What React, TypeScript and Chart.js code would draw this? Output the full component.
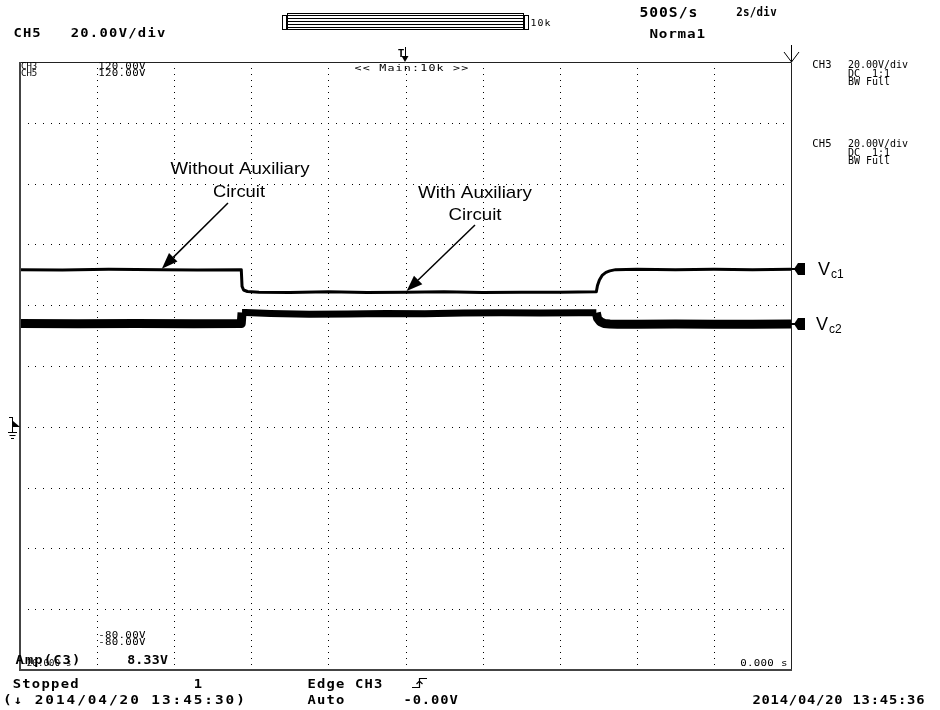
import React, { useEffect, useRef } from "react";
import { Chart, registerables } from "chart.js";

Chart.register(...registerables);

// Acquisition: 2 s/div over 10 divisions, 20 V/div over 10 divisions (-80 V .. +120 V)
const timeMin = 0;
const timeMax = 20;
const timeStep = 2;
const voltMin = -80;
const voltMax = 120;
const voltStep = 20;

// CH3 trace (Vc1), seconds / volts
const vc1Time = [0, 1.1, 2.3, 3.7, 4.6, 5.74, 5.76, 5.8, 5.9, 6.2, 7.0, 8.0, 9.0, 10.0, 11.0, 12.0, 13.0, 14.0, 14.95, 14.98, 15.03, 15.1, 15.2, 15.3, 15.45, 16.0, 17.0, 18.0, 19.0, 20.0];
const vc1Volts = [51.7, 51.6, 51.8, 51.7, 51.6, 51.7, 46.2, 45.0, 44.5, 44.3, 44.2, 44.4, 44.2, 44.3, 44.4, 44.2, 44.3, 44.3, 44.4, 46.5, 48.3, 49.8, 50.8, 51.3, 51.7, 51.8, 51.7, 51.8, 51.7, 51.8];

// CH5 trace (Vc2), seconds / volts
const vc2Time = [0, 1.5, 3.0, 4.5, 5.74, 5.76, 5.85, 6.5, 7.5, 8.5, 9.5, 10.5, 11.5, 12.5, 13.5, 14.5, 14.95, 14.98, 15.05, 15.15, 15.3, 15.5, 16, 17, 18, 19, 20];
const vc2Volts = [34.0, 33.9, 34.0, 33.9, 34.0, 37.6, 37.6, 37.3, 37.0, 37.1, 37.3, 37.2, 37.4, 37.5, 37.4, 37.5, 37.5, 35.8, 34.6, 34.0, 33.8, 33.7, 33.7, 33.8, 33.7, 33.7, 33.8];

// auxiliary circuit active between these instants
const auxStart = 5.75;
const auxEnd = 14.96;

// annotation arrows point at Vc1 at these instants
const withoutArrowTime = 3.68;
const withArrowTime = 10.03;

const OSC_FONT = '"DejaVu Sans Mono", monospace';
const LABEL_FONT = '"Liberation Sans", Arial, sans-serif';

function interp(ts: number[], vs: number[], t: number) {
  for (let i = 1; i < ts.length; i++) {
    if (t <= ts[i]) {
      const f = (t - ts[i - 1]) / (ts[i] - ts[i - 1]);
      return vs[i - 1] + f * (vs[i] - vs[i - 1]);
    }
  }
  return vs[vs.length - 1];
}

// fixed-pitch text, each glyph widened by `sx` inside its cell
function mono(ctx: CanvasRenderingContext2D, text: string, x: number, y: number, pitch: number, sx = 1) {
  ctx.textAlign = "center";
  for (let i = 0; i < text.length; i++) {
    ctx.save();
    ctx.translate(x + i * pitch + pitch / 2, y);
    ctx.scale(sx, 1);
    ctx.fillText(text[i], 0, 0);
    ctx.restore();
  }
}

// centred text stretched horizontally to a given width
function fitText(ctx: CanvasRenderingContext2D, text: string, cx: number, y: number, width: number) {
  const w = ctx.measureText(text).width;
  ctx.save();
  ctx.translate(cx, y);
  ctx.scale(width / w, 1);
  ctx.textAlign = "center";
  ctx.fillText(text, 0, 0);
  ctx.restore();
}

function arrow(ctx: CanvasRenderingContext2D, x0: number, y0: number, x1: number, y1: number) {
  const ang = Math.atan2(y1 - y0, x1 - x0);
  const head = 16;
  const half = 6;
  const bx = x1 - head * Math.cos(ang);
  const by = y1 - head * Math.sin(ang);
  ctx.beginPath();
  ctx.moveTo(x0, y0);
  ctx.lineTo(bx, by);
  ctx.lineWidth = 1.5;
  ctx.strokeStyle = "#000";
  ctx.stroke();
  ctx.beginPath();
  ctx.moveTo(x1, y1);
  ctx.lineTo(bx + half * Math.sin(ang), by - half * Math.cos(ang));
  ctx.lineTo(bx - half * Math.sin(ang), by + half * Math.cos(ang));
  ctx.closePath();
  ctx.fillStyle = "#000";
  ctx.fill();
}

const scopeScreen = {
  id: "scopeScreen",
  beforeDatasetsDraw(chart: any) {
    const { ctx, chartArea: a, scales } = chart;
    const xs = scales.x;
    const ys = scales.y;
    ctx.save();
    ctx.fillStyle = "#000";
    // dotted graticule, 10 dots per division
    const dx = (a.right - a.left) / 100;
    const dy = (a.bottom - a.top) / 100;
    for (let t = timeMin + timeStep; t < timeMax; t += timeStep) {
      const x = Math.round(xs.getPixelForValue(t));
      for (let k = 0; k <= 100; k++) ctx.fillRect(x, Math.round(a.top + k * dy), 1, 1);
    }
    for (let v = voltMin + voltStep; v < voltMax; v += voltStep) {
      const y = Math.round(ys.getPixelForValue(v));
      for (let k = 0; k <= 100; k++) ctx.fillRect(Math.round(a.left + k * dx), y, 1, 1);
    }
    ctx.restore();
  },
  afterDraw(chart: any) {
    const { ctx, chartArea: a, scales } = chart;
    const xs = scales.x;
    const ys = scales.y;
    ctx.save();

    // frame
    ctx.strokeStyle = "#222";
    ctx.lineWidth = 1;
    ctx.beginPath();
    ctx.moveTo(a.left, a.top + 0.5);
    ctx.lineTo(a.right + 0.5, a.top + 0.5);
    ctx.lineTo(a.right + 0.5, a.bottom);
    ctx.stroke();
    ctx.strokeStyle = "#444";
    ctx.lineWidth = 2;
    ctx.beginPath();
    ctx.moveTo(a.left, a.top);
    ctx.lineTo(a.left, a.bottom);
    ctx.lineTo(a.right + 1, a.bottom);
    ctx.stroke();

    ctx.fillStyle = "#000";
    ctx.textBaseline = "alphabetic";

    // header
    ctx.font = `bold 12px ${OSC_FONT}`;
    mono(ctx, "CH5", 13, 37, 9.4, 1.15);
    mono(ctx, "20.00V/div", 70, 37, 9.6, 1.15);
    ctx.font = `bold 14px ${OSC_FONT}`;
    mono(ctx, "500S/s", 639, 17, 9.8, 1.05);
    ctx.font = `bold 13px ${OSC_FONT}`;
    mono(ctx, "Norma1", 649, 38, 9.4, 1.1);
    ctx.font = `bold 12px ${OSC_FONT}`;
    mono(ctx, "2s/div", 736, 16, 6.8, 0.9);

    // zoom position bar
    ctx.strokeStyle = "#000";
    ctx.lineWidth = 1;
    ctx.strokeRect(282.5, 15.5, 4, 14);
    ctx.strokeRect(524.5, 15.5, 4, 14);
    ctx.beginPath();
    for (const y of [13.5, 15.5, 18.5, 21.5, 24.5, 27.5, 29.5]) {
      ctx.moveTo(287, y);
      ctx.lineTo(524, y);
    }
    ctx.moveTo(287.5, 13.5);
    ctx.lineTo(287.5, 29.5);
    ctx.moveTo(523.5, 13.5);
    ctx.lineTo(523.5, 29.5);
    ctx.stroke();
    ctx.font = `9px ${OSC_FONT}`;
    mono(ctx, "10k", 530, 26, 7, 1.1);

    // trigger position marker
    const tx = 401;
    ctx.font = `bold 11px ${OSC_FONT}`;
    ctx.textAlign = "center";
    ctx.fillText("T", tx, 57);
    ctx.beginPath();
    ctx.moveTo(tx + 4.5, 47);
    ctx.lineTo(tx + 4.5, 57);
    ctx.stroke();
    ctx.beginPath();
    ctx.moveTo(tx + 0.5, 56);
    ctx.lineTo(tx + 7.5, 56);
    ctx.lineTo(tx + 4, a.top);
    ctx.closePath();
    ctx.fill();

    // record-end arrow, top right
    ctx.beginPath();
    ctx.moveTo(a.right + 0.5, 45);
    ctx.lineTo(a.right + 0.5, a.top);
    ctx.moveTo(a.right - 7, 52);
    ctx.lineTo(a.right + 0.5, a.top);
    ctx.lineTo(a.right + 8, 52);
    ctx.stroke();

    // small labels inside the screen
    ctx.font = `9px ${OSC_FONT}`;
    mono(ctx, "CH3", 21, 69, 5.4, 1.0);
    mono(ctx, "CH5", 21, 76, 5.4, 1.0);
    mono(ctx, "120.00V", 98, 69, 6.8, 1.2);
    mono(ctx, "120.00V", 98, 76, 6.8, 1.2);
    mono(ctx, "-80.00V", 98, 638, 6.8, 1.2);
    mono(ctx, "-80.00V", 98, 645, 6.8, 1.2);
    mono(ctx, "<< Main:10k >>", 354, 71, 8.2, 1.3);
    mono(ctx, "-20.000 s", 21, 666, 5.6, 1.0);
    mono(ctx, "0.000 s", a.right - 51, 666, 6.8, 1.2);
    ctx.font = `bold 12px ${OSC_FONT}`;
    mono(ctx, "Amp(C3)", 15, 664, 9.4, 1.15);
    mono(ctx, "8.33V", 127, 664, 8.2, 1.1);

    // ground reference marker
    const gy = Math.round(ys.getPixelForValue(0));
    ctx.lineWidth = 1;
    ctx.beginPath();
    ctx.moveTo(12.5, gy - 9);
    ctx.lineTo(12.5, gy + 5);
    ctx.moveTo(9, gy - 9.5);
    ctx.lineTo(13, gy - 9.5);
    ctx.moveTo(8, gy + 5.5);
    ctx.lineTo(17, gy + 5.5);
    ctx.moveTo(9.5, gy + 8.5);
    ctx.lineTo(15.5, gy + 8.5);
    ctx.moveTo(11, gy + 11.5);
    ctx.lineTo(14, gy + 11.5);
    ctx.stroke();
    ctx.beginPath();
    ctx.moveTo(13, gy - 6);
    ctx.lineTo(20, gy);
    ctx.lineTo(13, gy);
    ctx.closePath();
    ctx.fill();

    // right-hand channel settings
    ctx.font = `10px ${OSC_FONT}`;
    const panel = (y: number, ch: string) => {
      mono(ctx, ch, 812, y, 6.6, 1.05);
      mono(ctx, "20.00V/div", 848, y, 6.0, 1.0);
      mono(ctx, "DC  1:1", 848, y + 8.5, 6.0, 1.0);
      mono(ctx, "BW Full", 848, y + 17, 6.0, 1.0);
    };
    panel(68, "CH3");
    panel(147, "CH5");

    // channel level markers and trace names
    const marker = (v: number, label: string, x0: number) => {
      const y = Math.round(ys.getPixelForValue(v));
      ctx.fillRect(a.right, y - 1, 5, 2);
      ctx.beginPath();
      ctx.moveTo(a.right + 3, y);
      ctx.lineTo(a.right + 7, y - 6);
      ctx.lineTo(a.right + 14, y - 6);
      ctx.lineTo(a.right + 14, y + 6);
      ctx.lineTo(a.right + 7, y + 6);
      ctx.closePath();
      ctx.fill();
      ctx.textAlign = "left";
      ctx.font = `18px ${LABEL_FONT}`;
      ctx.fillText("V", x0, y + 6);
      ctx.font = `12px ${LABEL_FONT}`;
      ctx.fillText(label, x0 + 13, y + 9);
    };
    marker(vc1Volts[vc1Volts.length - 1], "c1", 818);
    marker(vc2Volts[vc2Volts.length - 1], "c2", 816);

    // annotations
    ctx.font = `17px ${LABEL_FONT}`;
    fitText(ctx, "Without Auxiliary", 240, 174, 139);
    fitText(ctx, "Circuit", 239, 197, 52);
    fitText(ctx, "With Auxiliary", 475, 198, 114);
    fitText(ctx, "Circuit", 475, 220, 53);
    arrow(ctx, 228, 203,
      xs.getPixelForValue(withoutArrowTime),
      ys.getPixelForValue(interp(vc1Time, vc1Volts, withoutArrowTime)) - 1);
    arrow(ctx, 475, 225,
      xs.getPixelForValue(withArrowTime),
      ys.getPixelForValue(interp(vc1Time, vc1Volts, withArrowTime)) - 1);

    // status line
    ctx.font = `bold 12px ${OSC_FONT}`;
    mono(ctx, "Stopped", 12, 688, 9.6, 1.15);
    mono(ctx, "1", 193, 688, 9.6, 1.15);
    mono(ctx, "Edge CH3", 307, 688, 9.5, 1.15);
    mono(ctx, "(\u2193 2014/04/20 13:45:30)", 2, 704, 10.6, 1.2);
    mono(ctx, "Auto", 307, 704, 9.5, 1.15);
    mono(ctx, "-0.00V", 403, 704, 9.2, 1.15);
    mono(ctx, "2014/04/20 13:45:36", 752, 704, 9.1, 1.15);
    // rising-edge trigger symbol
    ctx.lineWidth = 1.2;
    ctx.beginPath();
    ctx.moveTo(412, 687.5);
    ctx.lineTo(419.5, 687.5);
    ctx.lineTo(419.5, 678.5);
    ctx.lineTo(427, 678.5);
    ctx.moveTo(416.5, 684);
    ctx.lineTo(419.5, 681);
    ctx.lineTo(422.5, 684);
    ctx.stroke();

    ctx.restore();
  },
};

export default function App() {
  const ref = useRef<HTMLCanvasElement | null>(null);

  useEffect(() => {
    if (!ref.current) return;
    const chart = new Chart(ref.current, {
      type: "line",
      data: {
        datasets: [
          {
            label: "Vc1",
            data: vc1Time.map((t, i) => ({ x: t, y: vc1Volts[i] })),
            borderColor: "#000",
            borderWidth: 3,
            pointRadius: 0,
            tension: 0,
            borderJoinStyle: "round",
          },
          {
            label: "Vc2",
            data: vc2Time.map((t, i) => ({ x: t, y: vc2Volts[i] })),
            borderColor: "#000",
            borderWidth: 9,
            pointRadius: 0,
            tension: 0,
            borderJoinStyle: "round",
            segment: {
              borderWidth: (c: any) =>
                c.p0.parsed.x >= auxStart && c.p1.parsed.x <= auxEnd ? 7 : 9,
            },
          },
        ],
      },
      options: {
        responsive: false,
        animation: false,
        events: [],
        layout: { padding: { left: 20, top: 62, right: 149, bottom: 40 } },
        plugins: { legend: { display: false }, tooltip: { enabled: false }, title: { display: false } },
        scales: {
          x: { type: "linear", min: timeMin, max: timeMax, display: false },
          y: { type: "linear", min: voltMin, max: voltMax, display: false },
        },
      },
      plugins: [scopeScreen],
    } as any);
    return () => chart.destroy();
  }, []);

  return (
    <div style={{ position: "fixed", left: 0, top: 0, width: 940, height: 710, background: "#fff" }}>
      <canvas ref={ref} width={940} height={710} />
    </div>
  );
}
